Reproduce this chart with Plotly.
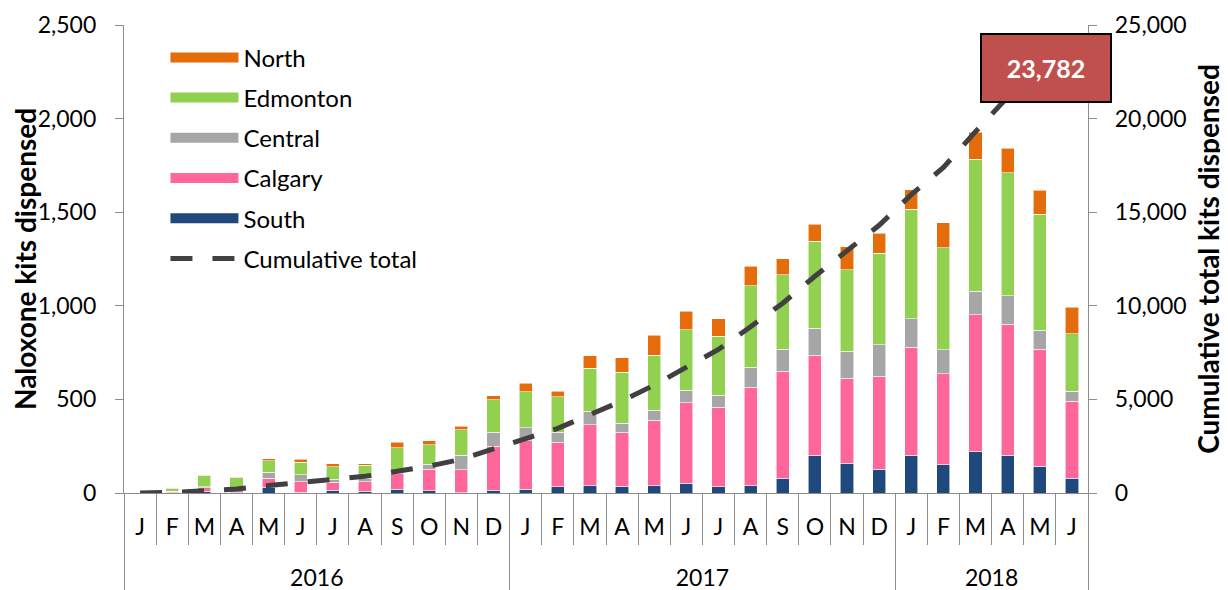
import plotly.graph_objects as go

# ---------------- data ----------------
years = ["2016", "2017", "2018"]
months_per_year = [12, 12, 6]
month_names = ["Jan", "Feb", "Mar", "Apr", "May", "Jun",
               "Jul", "Aug", "Sep", "Oct", "Nov", "Dec"]
month_labels = ["J", "F", "M", "A", "M", "J", "J", "A", "S", "O", "N", "D",
                "J", "F", "M", "A", "M", "J", "J", "A", "S", "O", "N", "D",
                "J", "F", "M", "A", "M", "J"]

south = [1, 2, 9, 5, 27, 4, 14, 9, 20, 12, 2, 16,
         20, 34, 39, 37, 39, 52, 34, 39, 78, 201, 158, 128,
         201, 150, 221, 201, 142, 78]
calgary = [2, 7, 20, 10, 53, 57, 43, 50, 82, 114, 121, 235,
           260, 237, 326, 287, 349, 431, 424, 525, 573, 534, 456, 495,
           577, 488, 730, 700, 625, 411]
central = [0, 1, 5, 2, 32, 36, 16, 21, 10, 28, 80, 73,
           69, 53, 71, 48, 53, 66, 64, 107, 117, 144, 142, 169,
           153, 128, 126, 153, 103, 55]
edmonton = [1, 13, 59, 64, 60, 68, 68, 69, 131, 103, 134, 175,
            192, 191, 230, 274, 294, 322, 315, 436, 397, 465, 436, 488,
            586, 545, 705, 657, 618, 306]
north = [0, 3, 3, 3, 11, 14, 14, 7, 27, 21, 20, 21,
         45, 28, 68, 77, 109, 100, 94, 104, 86, 91, 123, 107,
         103, 132, 146, 130, 130, 142]
cumulative = [3, 30, 127, 212, 396, 576, 732, 890, 1162, 1442, 1800, 2322,
              2910, 3455, 4190, 4915, 5762, 6735, 7668, 8885, 10140, 11580, 12900, 14300,
              15940, 17390, 19300, 21150, 22780, 23782]
final_total = 23782

# ---------------- styling ----------------
C_SOUTH = "#1F497D"
C_CALGARY = "#FF6699"
C_CENTRAL = "#A6A6A6"
C_EDMONTON = "#92D050"
C_NORTH = "#E46C0A"
C_LINE = "#404040"
AXIS_C = "#8C8C8C"
FONT = "Lato"
TICK_SIZE = 23

categories = []
for yr, n in zip(years, months_per_year):
    for m in month_names[:n]:
        categories.append(f"{m} {yr}")

fig = go.Figure()

series = [("South", south, C_SOUTH), ("Calgary", calgary, C_CALGARY),
          ("Central", central, C_CENTRAL), ("Edmonton", edmonton, C_EDMONTON),
          ("North", north, C_NORTH)]
for name, vals, col in series:
    fig.add_trace(go.Bar(
        x=categories, y=vals, name=name, legendgroup=name, showlegend=False,
        marker=dict(color=col, line=dict(color="rgba(255,255,255,0.7)", width=0.8)),
    ))

# legend swatches (wide colour bars like the original)
for name, vals, col in reversed(series):
    fig.add_trace(go.Scatter(
        x=[None], y=[None], mode="lines", name=name, legendgroup=name,
        line=dict(color=col, width=15), hoverinfo="skip",
    ))

fig.add_trace(go.Scatter(
    x=categories, y=cumulative, yaxis="y2", mode="lines",
    name="Cumulative total", legendgroup="cum",
    line=dict(color=C_LINE, width=5, dash="22px,20px"),
))

# year label positions derived from month counts
starts = []
acc = 0
for n in months_per_year:
    starts.append(acc)
    acc += n
year_centers = [s + (n - 1) / 2 for s, n in zip(starts, months_per_year)]
year_bounds = [s - 0.5 for s in starts] + [acc - 0.5]

# empty trace so the year axis (x2) gets drawn
fig.add_trace(go.Scatter(
    x=[None], y=[None], xaxis="x2", yaxis="y", mode="lines",
    showlegend=False, hoverinfo="skip",
))

fig.add_annotation(
    x=0.956, y=0.908, xref="paper", yref="paper", xanchor="center", yanchor="middle",
    text=f"<b>{final_total:,}</b>", showarrow=False,
    font=dict(family=FONT, size=25, color="white"),
    bgcolor="#C0504D", bordercolor="black", borderwidth=2, borderpad=1,
    width=126, height=64,
)

fig.update_layout(
    width=1220, height=582, autosize=False,
    margin=dict(l=116, r=140, t=17, b=97, pad=0, autoexpand=False),
    paper_bgcolor="white", plot_bgcolor="white",
    font=dict(family=FONT, size=TICK_SIZE, color="black"),
    barmode="stack", bargap=0.59,
    legend=dict(
        x=0.043, y=0.978, xanchor="left", yanchor="top",
        font=dict(family=FONT, size=24, color="black"),
        itemwidth=68, tracegroupgap=6, traceorder="grouped",
        bgcolor="rgba(0,0,0,0)",
    ),
    xaxis=dict(
        type="category", range=[-0.5, len(categories) - 0.5], automargin=False,
        tickmode="array", tickvals=categories, ticktext=month_labels,
        tickson="boundaries", ticks="outside", ticklen=51, tickwidth=1.3,
        tickcolor=AXIS_C, showline=True, linecolor=AXIS_C, linewidth=1.3,
        showgrid=False, zeroline=False, ticklabelstandoff=13,
        tickfont=dict(size=TICK_SIZE),
    ),
    xaxis2=dict(
        overlaying="x", anchor="y", side="bottom", type="linear", automargin=False,
        range=[-0.5, len(categories) - 0.5],
        tickmode="array", tickvals=year_centers, ticktext=years,
        ticks="", showline=False, showgrid=False, zeroline=False,
        ticklabelstandoff=69, tickfont=dict(size=TICK_SIZE),
        minor=dict(tickmode="array", tickvals=year_bounds, ticks="outside",
                   ticklen=97, tickwidth=1.3, tickcolor=AXIS_C, showgrid=False),
    ),
    yaxis=dict(
        range=[0, 2500], tickmode="linear", tick0=0, dtick=500, tickformat=",",
        automargin=False,
        ticks="outside", ticklen=8, tickwidth=1.3, tickcolor=AXIS_C,
        showline=True, linecolor=AXIS_C, linewidth=1.3,
        showgrid=False, zeroline=False, ticklabelstandoff=14,
        tickfont=dict(size=TICK_SIZE),
        title=dict(text="<b>Naloxone kits dispensed</b>", font=dict(size=28), standoff=0),
    ),
    yaxis2=dict(
        overlaying="y", side="right", anchor="x", automargin=False,
        range=[0, 25000], tickmode="linear", tick0=0, dtick=5000, tickformat=",",
        ticks="outside", ticklen=8, tickwidth=1.3, tickcolor=AXIS_C,
        showline=True, linecolor=AXIS_C, linewidth=1.3,
        showgrid=False, zeroline=False, ticklabelstandoff=13,
        tickfont=dict(size=TICK_SIZE),
        title=dict(text="<b>Cumulative total kits dispensed</b>", font=dict(size=28), standoff=13),
    ),
)

fig.write_html("out.html")
